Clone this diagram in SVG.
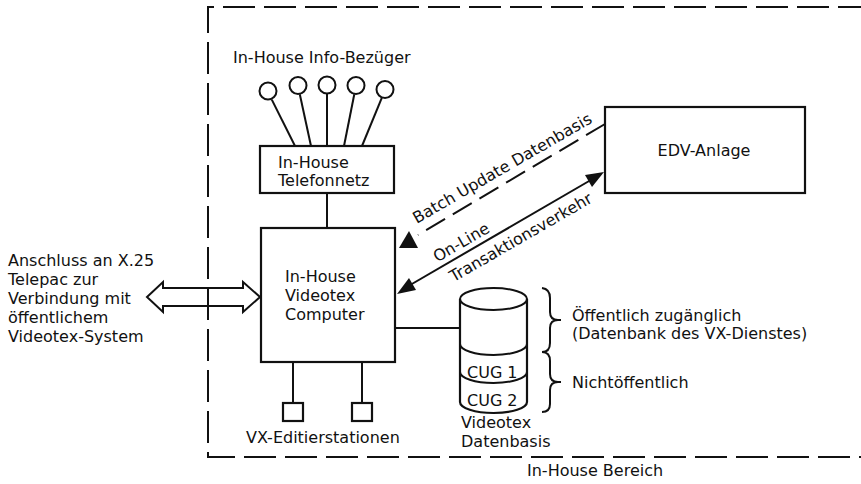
<svg xmlns="http://www.w3.org/2000/svg" width="861" height="484" viewBox="0 0 861 484">
<style>
text{font-family:"DejaVu Sans","Liberation Sans",sans-serif;font-size:16px;fill:#111}
.ln{stroke:#111;stroke-width:2;fill:none}
.box{stroke:#111;stroke-width:2.2;fill:#fff}
.bnd{stroke:#111;stroke-width:2;fill:none;stroke-dasharray:32 9}
.tri{fill:#111;stroke:none}
</style>
<rect width="861" height="484" fill="#fff"/>
<g id="boundary">
<path class="bnd" d="M870,7 H208 V457 H870"/>
<text x="527" y="476">In-House Bereich</text>
</g>
<g id="connectors">
<line class="ln" x1="271.8" y1="99.6" x2="295" y2="146"/>
<line class="ln" x1="299.8" y1="94.3" x2="311" y2="146"/>
<line class="ln" x1="327" y1="93.5" x2="327" y2="146"/>
<line class="ln" x1="354.3" y1="94.3" x2="344" y2="146"/>
<line class="ln" x1="381.8" y1="97.9" x2="362" y2="146"/>
<line class="ln" x1="327" y1="193" x2="327" y2="228"/>
<line class="ln" x1="293" y1="362" x2="293" y2="403"/>
<line class="ln" x1="362" y1="362" x2="362" y2="403"/>
<line class="ln" x1="395" y1="328" x2="460" y2="328"/>
<path class="ln" stroke-dasharray="22 9" d="M605,124 L418,235"/>
<polygon class="tri" points="399,248 418,248 409,231"/>
<line class="ln" x1="405" y1="288" x2="596" y2="177"/>
<polygon class="tri" points="397,294 416,290 409,278"/>
<polygon class="tri" points="604,172 592,187 585,175"/>
<path class="ln" stroke-width="1.8" d="M147,297 L163,282 V288 H243 V282 L260,297 L243,312 V306 H163 V312 Z"/>
</g>
<g id="info-bezueger">
<text x="233" y="63">In-House Info-Bezüger</text>
<circle class="ln" cx="268" cy="91" r="8.5"/>
<circle class="ln" cx="298" cy="85.5" r="8.5"/>
<circle class="ln" cx="327" cy="85" r="8.5"/>
<circle class="ln" cx="356" cy="85.5" r="8.5"/>
<circle class="ln" cx="385" cy="89.5" r="8.5"/>
</g>
<g id="telefonnetz">
<rect class="box" x="260" y="146" width="134" height="47"/>
<text x="278" y="168">In-House</text>
<text x="278" y="186">Telefonnetz</text>
</g>
<g id="computer">
<rect class="box" x="261" y="228" width="134" height="134" stroke-width="3.5"/>
<text x="285" y="282">In-House</text>
<text x="285" y="301">Videotex</text>
<text x="285" y="320">Computer</text>
</g>
<g id="stationen">
<rect class="box" x="283" y="403" width="20" height="18"/>
<rect class="box" x="352" y="403" width="20" height="18"/>
<text x="246" y="443">VX-Editierstationen</text>
</g>
<g id="edv">
<rect class="box" x="605" y="107" width="200" height="86"/>
<text x="704" y="156" text-anchor="middle">EDV-Anlage</text>
</g>
<g id="labels-links">
<text transform="rotate(-30 505 173)" x="505" y="173" text-anchor="middle">Batch Update Datenbasis</text>
<text transform="rotate(-30 464 247)" x="464" y="247" text-anchor="middle">On-Line</text>
<text transform="rotate(-30 523.5 242)" x="523.5" y="242" text-anchor="middle">Transaktionsverkehr</text>
</g>
<g id="anschluss">
<text x="8" y="266">Anschluss an X.25</text>
<text x="8" y="285">Telepac zur</text>
<text x="8" y="304">Verbindung mit</text>
<text x="8" y="323">öffentlichem</text>
<text x="8" y="342">Videotex-System</text>
</g>
<g id="datenbasis">
<path class="box" d="M460,299 V402 A33.5,11 0 0 0 527,402 V299"/>
<ellipse class="ln" cx="493.5" cy="299" rx="33.5" ry="11"/>
<path class="ln" d="M460,344 A33.5,11 0 0 0 527,344"/>
<path class="ln" d="M460,372 A33.5,11 0 0 0 527,372"/>
<text x="467" y="378">CUG 1</text>
<text x="467" y="406">CUG 2</text>
<text x="461" y="428">Videotex</text>
<text x="461" y="447">Datenbasis</text>
</g>
<g id="klammern">
<path class="ln" d="M542,288 Q550,289 550,298 V312 Q550,320 558,320 Q550,320 550,328 V343 Q550,352 542,352 Q550,352 550,361 V374 Q550,382 558,382 Q550,382 550,390 V404 Q550,412 542,412"/>
<line class="ln" x1="556" y1="320" x2="561" y2="320"/>
<line class="ln" x1="556" y1="382" x2="561" y2="382"/>
<text x="572" y="321">Öffentlich zugänglich</text>
<text x="572" y="339">(Datenbank des VX-Dienstes)</text>
<text x="572" y="388">Nichtöffentlich</text>
</g>
</svg>
